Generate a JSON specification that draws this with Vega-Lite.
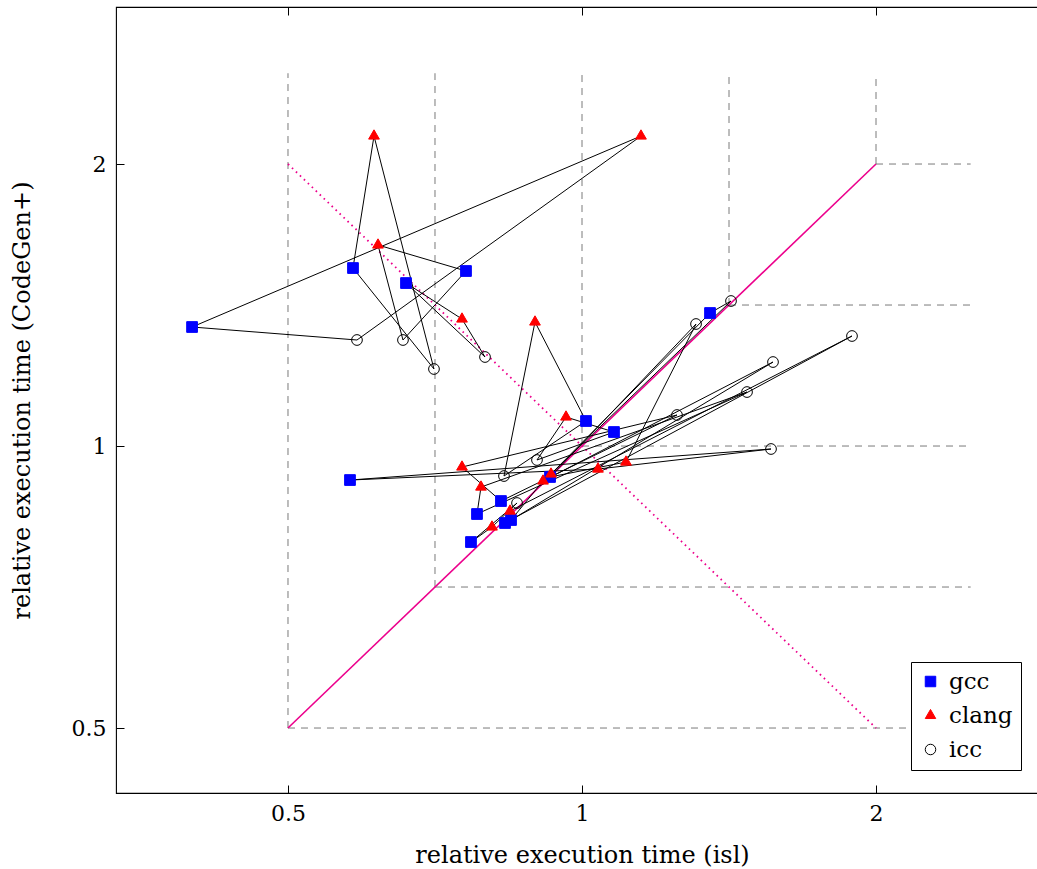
{
  "$schema": "https://vega.github.io/schema/vega-lite/v6.json",
  "width": 932,
  "height": 786,
  "autosize": {"type": "none"},
  "padding": {"left": 116, "top": 7, "right": 0, "bottom": 76},
  "background": "white",
  "config": {
    "font": "DejaVu Serif",
    "view": {"stroke": "black", "strokeWidth": 1.1},
    "legend": {
      "orient": "none", "legendX": 795, "legendY": 655, "title": null,
      "strokeColor": "black", "fillColor": "white", "padding": 8,
      "rowPadding": 10, "labelFontSize": 23, "labelColor": "black", "labelOffset": 7,
      "symbolSize": 110, "symbolStrokeWidth": 1, "cornerRadius": 0
    }
  },
  "datasets": {
    "refs": [
      {"x": 0.5, "y": 0.5, "x2": 0.5, "y2": 2.5},
      {"x": 0.5, "y": 0.5, "x2": 2.5, "y2": 0.5},
      {"x": 0.7071, "y": 0.7071, "x2": 0.7071, "y2": 2.5},
      {"x": 0.7071, "y": 0.7071, "x2": 2.5, "y2": 0.7071},
      {"x": 1, "y": 1, "x2": 1, "y2": 2.5},
      {"x": 1, "y": 1, "x2": 2.5, "y2": 1},
      {"x": 1.4142, "y": 1.4142, "x2": 1.4142, "y2": 2.5},
      {"x": 1.4142, "y": 1.4142, "x2": 2.5, "y2": 1.4142},
      {"x": 2, "y": 2, "x2": 2, "y2": 2.5},
      {"x": 2, "y": 2, "x2": 2.5, "y2": 2}
    ],
    "diag": [
      {"kind": "same", "x": 0.5, "y": 0.5, "x2": 2, "y2": 2}
    ],
    "anti": [
      {"kind": "inverse", "x": 0.5, "y": 2, "x2": 2, "y2": 0.5}
    ],
    "pts": [
      {"b": "B1", "c": "gcc", "o": 0, "x": 0.3988, "y": 1.3398},
      {"b": "B2", "c": "gcc", "o": 0, "x": 0.5828, "y": 1.5488},
      {"b": "B3", "c": "gcc", "o": 0, "x": 0.6604, "y": 1.4927},
      {"b": "B4", "c": "gcc", "o": 0, "x": 0.7607, "y": 1.5375},
      {"b": "B5", "c": "gcc", "o": 0, "x": 0.5787, "y": 0.9198},
      {"b": "B6", "c": "gcc", "o": 0, "x": 0.9274, "y": 0.9267},
      {"b": "B7", "c": "gcc", "o": 0, "x": 1.0095, "y": 1.0634},
      {"b": "B8", "c": "gcc", "o": 0, "x": 1.0783, "y": 1.035},
      {"b": "B9", "c": "gcc", "o": 0, "x": 1.3523, "y": 1.3867},
      {"b": "B10", "c": "gcc", "o": 0, "x": 0.8261, "y": 0.8735},
      {"b": "B11", "c": "gcc", "o": 0, "x": 0.7807, "y": 0.8461},
      {"b": "B12", "c": "gcc", "o": 0, "x": 0.834, "y": 0.8276},
      {"b": "B13", "c": "gcc", "o": 0, "x": 0.8459, "y": 0.8337},
      {"b": "B14", "c": "gcc", "o": 0, "x": 0.7697, "y": 0.7898},
      {"b": "B1", "c": "clang", "o": 1, "x": 1.1492, "y": 2.1425},
      {"b": "B2", "c": "clang", "o": 1, "x": 0.6124, "y": 2.1425},
      {"b": "B3", "c": "clang", "o": 1, "x": 0.7536, "y": 1.3664},
      {"b": "B4", "c": "clang", "o": 1, "x": 0.6182, "y": 1.639},
      {"b": "B5", "c": "clang", "o": 1, "x": 1.0384, "y": 0.945},
      {"b": "B6", "c": "clang", "o": 1, "x": 1.1093, "y": 0.9614},
      {"b": "B7", "c": "clang", "o": 1, "x": 0.8951, "y": 1.3564},
      {"b": "B8", "c": "clang", "o": 1, "x": 0.963, "y": 1.0739},
      {"b": "B9", "c": "clang", "o": 1, "x": 0.9295, "y": 0.9335},
      {"b": "B10", "c": "clang", "o": 1, "x": 0.7536, "y": 0.9497},
      {"b": "B11", "c": "clang", "o": 1, "x": 0.7881, "y": 0.9041},
      {"b": "B12", "c": "clang", "o": 1, "x": 0.8439, "y": 0.8523},
      {"b": "B13", "c": "clang", "o": 1, "x": 0.9122, "y": 0.9176},
      {"b": "B14", "c": "clang", "o": 1, "x": 0.8088, "y": 0.8195},
      {"b": "B1", "c": "icc", "o": 2, "x": 0.5883, "y": 1.2977},
      {"b": "B2", "c": "icc", "o": 2, "x": 0.7054, "y": 1.2084},
      {"b": "B3", "c": "icc", "o": 2, "x": 0.7956, "y": 1.2446},
      {"b": "B4", "c": "icc", "o": 2, "x": 0.6557, "y": 1.2977},
      {"b": "B5", "c": "icc", "o": 2, "x": 1.5614, "y": 0.9927},
      {"b": "B6", "c": "icc", "o": 2, "x": 1.3084, "y": 1.3497},
      {"b": "B7", "c": "icc", "o": 2, "x": 0.832, "y": 0.9289},
      {"b": "B8", "c": "icc", "o": 2, "x": 0.8993, "y": 0.9662},
      {"b": "B9", "c": "icc", "o": 2, "x": 1.4209, "y": 1.4282},
      {"b": "B10", "c": "icc", "o": 2, "x": 1.251, "y": 1.0792},
      {"b": "B11", "c": "icc", "o": 2, "x": 1.4755, "y": 1.1419},
      {"b": "B12", "c": "icc", "o": 2, "x": 1.8899, "y": 1.3105},
      {"b": "B13", "c": "icc", "o": 2, "x": 1.5688, "y": 1.2293},
      {"b": "B14", "c": "icc", "o": 2, "x": 0.858, "y": 0.8693}
    ]
  },
  "resolve": {"axis": {"x": "independent", "y": "independent"}},
  "layer": [
    {
      "data": {"name": "refs"},
      "mark": {"type": "rule", "color": "#7a7a7a", "strokeWidth": 1, "strokeDash": [7, 6]},
      "encoding": {
        "x": {
          "field": "x", "type": "quantitative",
          "scale": {"type": "log", "domain": [0.33333, 3], "nice": false, "zero": false},
          "axis": {
            "orient": "bottom", "values": [0.5, 1, 2], "format": "~g",
            "grid": false, "domain": false, "ticks": true, "tickSize": -8, "tickColor": "black", "tickWidth": 1,
            "labelFontSize": 22, "labelColor": "black", "labelPadding": 18, "labelFlush": false,
            "title": "relative execution time (isl)", "titleFontSize": 24, "titleFontWeight": "normal",
            "titleColor": "black", "titlePadding": 19
          }
        },
        "y": {
          "field": "y", "type": "quantitative",
          "scale": {"type": "log", "domain": [0.4262, 2.942], "nice": false, "zero": false},
          "axis": {
            "orient": "left", "values": [0.5, 1, 2], "format": "~g",
            "grid": false, "domain": false, "ticks": true, "tickSize": -8, "tickColor": "black", "tickWidth": 1,
            "labelFontSize": 22, "labelColor": "black", "labelPadding": 18, "labelFlush": false,
            "title": "relative execution time (CodeGen+)", "titleFontSize": 24, "titleFontWeight": "normal",
            "titleColor": "black", "titlePadding": 37
          }
        },
        "x2": {"field": "x2"},
        "y2": {"field": "y2"}
      }
    },
    {
      "data": {"name": "diag"},
      "mark": {"type": "rule", "color": "#ec008c", "strokeWidth": 1.6},
      "encoding": {
        "x": {
          "field": "x", "type": "quantitative",
          "axis": {
            "orient": "top", "values": [0.5, 1, 2], "labels": false, "title": null,
            "grid": false, "domain": false, "ticks": true, "tickSize": -8, "tickColor": "black", "tickWidth": 1
          }
        },
        "y": {
          "field": "y", "type": "quantitative",
          "axis": {
            "orient": "right", "values": [0.5, 1, 2], "labels": false, "title": null,
            "grid": false, "domain": false, "ticks": true, "tickSize": -8, "tickColor": "black", "tickWidth": 1
          }
        },
        "x2": {"field": "x2"},
        "y2": {"field": "y2"}
      }
    },
    {
      "data": {"name": "anti"},
      "mark": {"type": "rule", "color": "#ec008c", "strokeWidth": 1.8, "strokeDash": [1.6, 3.9]},
      "encoding": {
        "x": {"field": "x", "type": "quantitative", "axis": null},
        "y": {"field": "y", "type": "quantitative", "axis": null},
        "x2": {"field": "x2"},
        "y2": {"field": "y2"}
      }
    },
    {
      "data": {"name": "pts"},
      "mark": {"type": "line", "interpolate": "linear-closed", "color": "black", "strokeWidth": 1},
      "encoding": {
        "x": {"field": "x", "type": "quantitative", "axis": null},
        "y": {"field": "y", "type": "quantitative", "axis": null},
        "detail": {"field": "b", "type": "nominal"},
        "order": {"field": "o", "type": "quantitative"}
      }
    },
    {
      "data": {"name": "pts"},
      "mark": {"type": "point", "opacity": 1, "strokeWidth": 1, "size": 115},
      "encoding": {
        "x": {"field": "x", "type": "quantitative", "axis": null},
        "y": {"field": "y", "type": "quantitative", "axis": null},
        "shape": {
          "field": "c", "type": "nominal",
          "scale": {"domain": ["gcc", "clang", "icc"], "range": ["square", "triangle", "circle"]}
        },
        "fill": {
          "field": "c", "type": "nominal",
          "scale": {"domain": ["gcc", "clang", "icc"], "range": ["#0000ff", "#ff0000", "transparent"]}
        },
        "stroke": {
          "field": "c", "type": "nominal",
          "scale": {"domain": ["gcc", "clang", "icc"], "range": ["#0000ff", "#ff0000", "black"]}
        }
      }
    }
  ]
}
